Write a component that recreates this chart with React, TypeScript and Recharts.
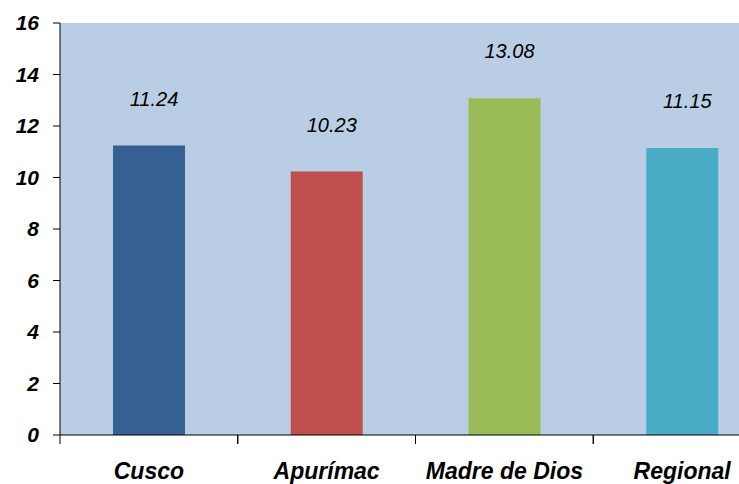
import React from "react";
import { Bar, BarChart, CartesianGrid, Cell, LabelList, XAxis, YAxis } from "recharts";

const CATEGORIES = ["Cusco", "Apurímac", "Madre de Dios", "Regional"];
const VALUES = [11.24, 10.23, 13.08, 11.15];
const COLORS = ["#376092", "#C0504D", "#9BBB59", "#4BACC6"];
const Y_TICKS = [0, 2, 4, 6, 8, 10, 12, 14, 16];

const data = CATEGORIES.map((name, i) => ({ name, value: VALUES[i] }));

const FONT = "'Liberation Sans', Arial, sans-serif";
const BAND = 711 / 4;

function XTick(props: any) {
  const { x, y, payload } = props;
  return (
    <g>
      <line x1={x - BAND / 2} y1={y - 8} x2={x - BAND / 2} y2={y + 1} stroke="#000" strokeWidth={1} />
      <line x1={x + BAND / 2} y1={y - 8} x2={x + BAND / 2} y2={y + 1} stroke="#000" strokeWidth={1} />
      <text
        x={x}
        y={y + 36}
        textAnchor="middle"
        fontFamily={FONT}
        fontSize={23}
        fontWeight="bold"
        fontStyle="italic"
        fill="#000"
      >
        {payload.value}
      </text>
    </g>
  );
}

export default function App() {
  return (
    <div style={{ position: "absolute", left: 0, top: 0, width: 739, height: 484, overflow: "hidden" }}>
      <BarChart
        width={780}
        height={484}
        data={data}
        margin={{ top: 23, right: 9, bottom: 0, left: 0 }}
        barCategoryGap="0%"
      >
        <CartesianGrid horizontal={false} vertical={false} fill="#B9CDE5" />
        <XAxis
          dataKey="name"
          height={49}
          axisLine={{ stroke: "#000" }}
          tickLine={false}
          tick={<XTick />}
          interval={0}
        />
        <YAxis
          width={60}
          domain={[0, 16]}
          ticks={Y_TICKS}
          interval={0}
          axisLine={{ stroke: "#000" }}
          tickLine={{ stroke: "#000" }}
          tickSize={7}
          tickMargin={14}
          tick={{ fill: "#000", fontFamily: FONT, fontSize: 21, fontWeight: "bold", fontStyle: "italic" }}
        />
        <Bar dataKey="value" barSize={72} isAnimationActive={false}>
          {data.map((d, i) => (
            <Cell key={d.name} fill={COLORS[i]} />
          ))}
          <LabelList
            dataKey="value"
            position="top"
            offset={40}
            formatter={(v: any) => Number(v).toFixed(2)}
            style={{ fill: "#000", fontFamily: FONT, fontSize: 20, fontStyle: "italic" }}
            dx={5}
          />
        </Bar>
      </BarChart>
    </div>
  );
}
